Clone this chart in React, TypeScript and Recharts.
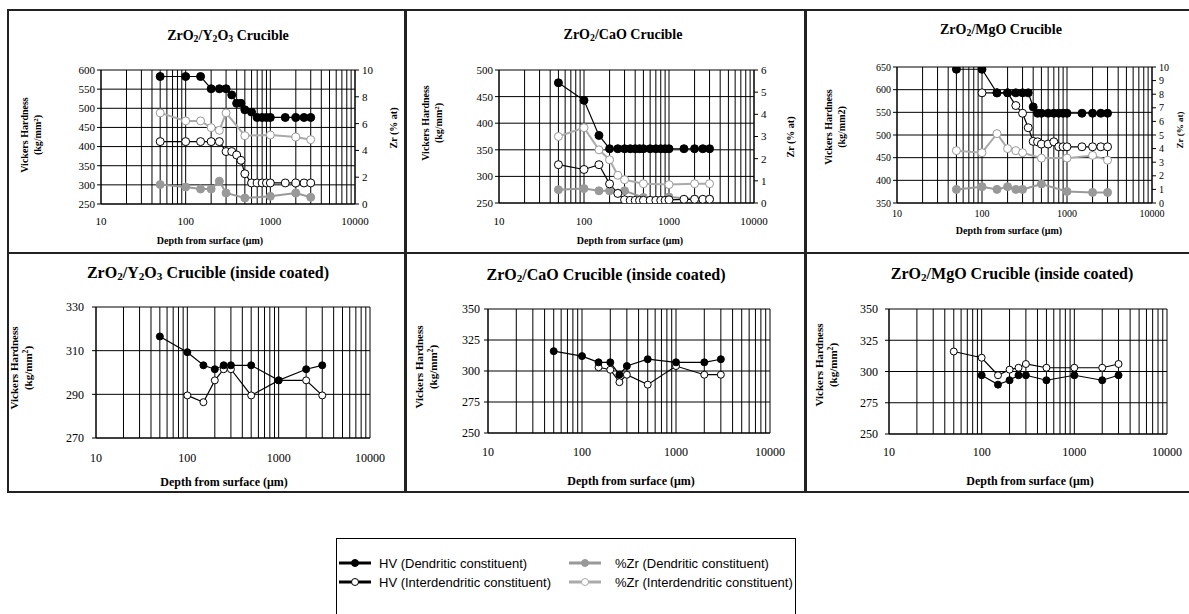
import React from "react";
import { CartesianGrid, Line, LineChart, XAxis, YAxis } from "recharts";

const SERIF = '"Liberation Serif", "Times New Roman", serif';
const SANS = '"Liberation Sans", Arial, sans-serif';

// log axis: every minor value gets a gridline, only decades are labelled
const LOG_TICKS = [
  10, 20, 30, 40, 50, 60, 70, 80, 90,
  100, 200, 300, 400, 500, 600, 700, 800, 900,
  1000, 2000, 3000, 4000, 5000, 6000, 7000, 8000, 9000, 10000,
];
const DECADES = [10, 100, 1000, 10000];

// depths (µm)
const DEPTH_FULL = [50, 100, 150, 200, 250, 300, 350, 400, 450, 500, 600, 700, 800, 900, 1000, 1500, 2000, 2500, 3000];
const DEPTH_FROM_100 = [100, 150, 200, 250, 300, 350, 400, 450, 500, 600, 700, 800, 900, 1000, 1500, 2000, 2500, 3000];
const DEPTH_ZR = [50, 100, 150, 200, 250, 300, 500, 1000, 2000, 3000];
const DEPTH_COATED = [50, 100, 150, 200, 250, 300, 500, 1000, 2000, 3000];
const DEPTH_COATED_100 = [100, 150, 200, 250, 300, 500, 1000, 2000, 3000];
const DEPTH_COATED_150 = [150, 200, 250, 300, 500, 1000, 2000, 3000];

// ZrO2/Y2O3 crucible
const Y2O3_HV_DEND = [583, 583, 583, 551, 551, 551, 535, 513, 513, 496, 490, 476, 476, 476, 476, 476, 476, 476, 476];
const Y2O3_HV_INTER = [413, 413, 413, 413, 413, 387, 387, 378, 364, 329, 305, 305, 305, 305, 305, 305, 305, 305, 305];
const Y2O3_ZR_DEND = [1.45, 1.27, 1.12, 1.12, 1.7, 0.82, 0.45, 0.57, 0.82, 0.5];
const Y2O3_ZR_INTER = [6.8, 6.2, 6.2, 5.7, 5.5, 6.8, 5.1, 5.15, 5.0, 4.8];

// ZrO2/CaO crucible
const CAO_HV_DEND = [476, 443, 377, 352, 352, 352, 352, 352, 352, 352, 352, 352, 352, 352, 352, 352, 352, 352, 352];
const CAO_HV_INTER = [322, 313, 322, 286, 268, 256, 255, 255, 255, 255, 255, 255, 255, 255, 256, 257, 257, 257, 257];
const CAO_ZR_DEND = [0.6, 0.65, 0.55, 0.55, 0.45, 0.55, 0.25, 0.27, 0.18, 0.18];
const CAO_ZR_INTER = [3.0, 3.4, 2.4, 1.95, 1.25, 1.05, 0.87, 0.83, 0.87, 0.87];

// ZrO2/MgO crucible
const MGO_HV_DEND = [645, 645, 593, 593, 593, 593, 593, 562, 548, 548, 548, 548, 548, 548, 548, 548, 548, 548, 548];
const MGO_HV_INTER = [593, 593, 593, 565, 548, 516, 486, 485, 480, 480, 485, 474, 474, 474, 474, 474, 474, 474];
const MGO_ZR_DEND = [1.0, 1.2, 1.0, 1.2, 1.0, 1.0, 1.4, 0.85, 0.78, 0.78];
const MGO_ZR_INTER = [3.85, 3.7, 5.1, 4.0, 3.85, 3.7, 3.3, 3.3, 3.5, 3.15];

// inside coated crucibles
const Y2O3C_HV_DEND = [316.5, 309.3, 303.3, 301.5, 303.3, 303.3, 303.3, 296.4, 301.5, 303.3];
const Y2O3C_HV_INTER = [289.5, 286.4, 296.4, 301.5, 301.5, 289.5, 296.4, 296.4, 289.5];
const CAOC_HV_DEND = [316, 312, 307, 307, 297, 304, 309.5, 307, 307, 309.5];
const CAOC_HV_INTER = [303, 301, 291, 297, 289, 304, 297, 297];
const MGOC_HV_DEND = [297, 289.5, 293, 297, 297, 293, 297, 293, 297];
const MGOC_HV_INTER = [316, 311, 297, 301.5, 303, 306, 303, 303, 303, 306];

const pts = (xs: number[], ys: number[]) => xs.map((x, i) => ({ x, y: ys[i] }));

type Kind = "hvDend" | "hvInter" | "zrDend" | "zrInter";
type Series = { key: string; data: { x: number; y: number }[]; kind: Kind };

const STYLE: Record<Kind, { stroke: string; width: number; fill: string; dotStroke: string; axis: string }> = {
  hvDend: { stroke: "#000", width: 1.2, fill: "#000", dotStroke: "#000", axis: "left" },
  hvInter: { stroke: "#000", width: 1.2, fill: "#fff", dotStroke: "#000", axis: "left" },
  zrDend: { stroke: "#999", width: 2, fill: "#999", dotStroke: "#999", axis: "right" },
  zrInter: { stroke: "#aaa", width: 2, fill: "#fff", dotStroke: "#999", axis: "right" },
};

type PanelProps = {
  plot: { x: number; y: number; w: number; h: number };
  leftDomain: number[];
  leftTicks: number[];
  rightDomain?: number[];
  rightTicks?: number[];
  series: Series[];
  fontSize: number;
  tickGap: number;
  leftMargin: number;
  dotR: number;
};

function Panel(p: PanelProps) {
  const LW = 60;
  const RW = 50;
  const TOP = 10;
  const XH = 40;
  const hasRight = !!p.rightDomain;
  const tickFont = { fontSize: p.fontSize, fill: "#000", fontFamily: SERIF };
  return (
    <div style={{ position: "absolute", left: p.plot.x - LW, top: p.plot.y - TOP }}>
      <LineChart
        width={p.plot.w + LW + RW}
        height={p.plot.h + TOP + XH}
        margin={{ top: TOP, right: hasRight ? 0 : RW, left: 0, bottom: 0 }}
      >
        <CartesianGrid yAxisId="left" stroke="#000" strokeWidth={1} />
        <XAxis
          dataKey="x"
          type="number"
          scale="log"
          domain={[10, 10000]}
          ticks={LOG_TICKS}
          interval={0}
          allowDataOverflow
          height={XH}
          tickLine={false}
          tickSize={6}
          tickMargin={p.tickGap - 6 - 0.35 * p.fontSize}
          axisLine={{ stroke: "#000" }}
          tick={tickFont}
          tickFormatter={(v: number) => (DECADES.includes(v) ? String(v) : "")}
        />
        <YAxis
          yAxisId="left"
          domain={p.leftDomain}
          ticks={p.leftTicks}
          interval={0}
          allowDataOverflow
          width={LW}
          tickSize={4}
          tickMargin={p.leftMargin}
          tickLine={{ stroke: "#000" }}
          axisLine={{ stroke: "#000" }}
          tick={tickFont}
        />
        <YAxis
          yAxisId="right"
          orientation="right"
          hide={!hasRight}
          domain={p.rightDomain ?? [0, 1]}
          ticks={p.rightTicks}
          interval={0}
          allowDataOverflow
          width={RW}
          tickSize={4}
          tickMargin={3}
          tickLine={{ stroke: "#000" }}
          axisLine={{ stroke: "#000" }}
          tick={tickFont}
        />
        {p.series.map((s) => {
          const st = STYLE[s.kind];
          return (
            <Line
              key={s.key}
              data={s.data}
              dataKey="y"
              yAxisId={st.axis}
              type="linear"
              stroke={st.stroke}
              strokeWidth={st.width}
              dot={{ r: p.dotR, fill: st.fill, stroke: st.dotStroke, strokeWidth: 1 }}
              activeDot={false}
              isAnimationActive={false}
            />
          );
        })}
      </LineChart>
    </div>
  );
}

function Txt({ x, y, size, bold = true, rotate = false, children }: any) {
  return (
    <div
      style={{
        position: "absolute",
        left: x,
        top: y,
        transform: `translate(-50%, -50%)${rotate ? " rotate(-90deg)" : ""}`,
        fontFamily: SERIF,
        fontSize: size,
        fontWeight: bold ? "bold" : "normal",
        whiteSpace: "nowrap",
        lineHeight: 1.3,
        textAlign: "center",
        color: "#000",
      }}
    >
      {children}
    </div>
  );
}

const sub = { fontSize: "0.7em", verticalAlign: "-0.25em", lineHeight: 0 } as const;
const sup = { fontSize: "0.7em", verticalAlign: "0.5em", lineHeight: 0 } as const;

function Box({ x, y, w, h }: { x: number; y: number; w: number; h: number }) {
  return (
    <div
      style={{
        position: "absolute",
        left: x,
        top: y,
        width: w,
        height: h,
        boxSizing: "border-box",
        border: "2px solid #222",
      }}
    />
  );
}

function LegendSample({ color, filled }: { color: string; filled: boolean }) {
  return (
    <svg width={32} height={10} style={{ display: "block" }}>
      <line x1={0} y1={5} x2={32} y2={5} stroke={color} strokeWidth={3} />
      <circle cx={16} cy={5} r={3.5} fill={filled ? color : "#fff"} stroke={color} strokeWidth={1} />
    </svg>
  );
}

const LEGEND = [
  { label: "HV (Dendritic constituent)", color: "#000", filled: true, x: 339, y: 563, gap: 8 },
  { label: "HV (Interdendritic constituent)", color: "#000", filled: false, x: 339, y: 582, gap: 8 },
  { label: "%Zr (Dendritic constituent)", color: "#999", filled: true, x: 569, y: 563, gap: 14 },
  { label: "%Zr (Interdendritic constituent)", color: "#aaa", filled: false, x: 569, y: 582, gap: 14 },
];

export default function App() {
  const hvLabel = (
    <>
      <div>Vickers Hardness</div>
      <div>
        (kg/mm<span style={sup}>2</span>)
      </div>
    </>
  );
  const depth = <>Depth from surface (μm)</>;
  return (
    <div style={{ position: "absolute", left: 0, top: 0, width: 1189, height: 614, overflow: "hidden", background: "#fff" }}>
      <Box x={7} y={9} w={399} h={245} />
      <Box x={405} y={9} w={401} h={245} />
      <Box x={805} y={9} w={400} h={245} />
      <Box x={7} y={252} w={399} h={241} />
      <Box x={405} y={252} w={401} h={241} />
      <Box x={805} y={252} w={400} h={241} />

      {/* top row */}
      <Panel
        plot={{ x: 101, y: 70, w: 254, h: 134 }}
        leftDomain={[250, 600]}
        leftTicks={[250, 300, 350, 400, 450, 500, 550, 600]}
        rightDomain={[0, 10]}
        rightTicks={[0, 2, 4, 6, 8, 10]}
        fontSize={11}
        tickGap={17}
        leftMargin={2}
        dotR={4}
        series={[
          { key: "zi", data: pts(DEPTH_ZR, Y2O3_ZR_INTER), kind: "zrInter" },
          { key: "zd", data: pts(DEPTH_ZR, Y2O3_ZR_DEND), kind: "zrDend" },
          { key: "hi", data: pts(DEPTH_FULL, Y2O3_HV_INTER), kind: "hvInter" },
          { key: "hd", data: pts(DEPTH_FULL, Y2O3_HV_DEND), kind: "hvDend" },
        ]}
      />
      <Panel
        plot={{ x: 499, y: 70, w: 255, h: 133 }}
        leftDomain={[250, 500]}
        leftTicks={[250, 300, 350, 400, 450, 500]}
        rightDomain={[0, 6]}
        rightTicks={[0, 1, 2, 3, 4, 5, 6]}
        fontSize={11}
        tickGap={18}
        leftMargin={2}
        dotR={4}
        series={[
          { key: "zi", data: pts(DEPTH_ZR, CAO_ZR_INTER), kind: "zrInter" },
          { key: "zd", data: pts(DEPTH_ZR, CAO_ZR_DEND), kind: "zrDend" },
          { key: "hi", data: pts(DEPTH_FULL, CAO_HV_INTER), kind: "hvInter" },
          { key: "hd", data: pts(DEPTH_FULL, CAO_HV_DEND), kind: "hvDend" },
        ]}
      />
      <Panel
        plot={{ x: 897, y: 67, w: 255, h: 136 }}
        leftDomain={[350, 650]}
        leftTicks={[350, 400, 450, 500, 550, 600, 650]}
        rightDomain={[0, 10]}
        rightTicks={[0, 1, 2, 3, 4, 5, 6, 7, 8, 9, 10]}
        fontSize={10}
        tickGap={10}
        leftMargin={2}
        dotR={4}
        series={[
          { key: "zi", data: pts(DEPTH_ZR, MGO_ZR_INTER), kind: "zrInter" },
          { key: "zd", data: pts(DEPTH_ZR, MGO_ZR_DEND), kind: "zrDend" },
          { key: "hi", data: pts(DEPTH_FROM_100, MGO_HV_INTER), kind: "hvInter" },
          { key: "hd", data: pts(DEPTH_FULL, MGO_HV_DEND), kind: "hvDend" },
        ]}
      />

      {/* bottom row */}
      <Panel
        plot={{ x: 96, y: 307, w: 274, h: 131 }}
        leftDomain={[270, 330]}
        leftTicks={[270, 290, 310, 330]}
        fontSize={12}
        tickGap={20}
        leftMargin={8}
        dotR={3.5}
        series={[
          { key: "hi", data: pts(DEPTH_COATED_100, Y2O3C_HV_INTER), kind: "hvInter" },
          { key: "hd", data: pts(DEPTH_COATED, Y2O3C_HV_DEND), kind: "hvDend" },
        ]}
      />
      <Panel
        plot={{ x: 488, y: 309, w: 282, h: 124 }}
        leftDomain={[250, 350]}
        leftTicks={[250, 275, 300, 325, 350]}
        fontSize={12}
        tickGap={19}
        leftMargin={4}
        dotR={3.5}
        series={[
          { key: "hi", data: pts(DEPTH_COATED_150, CAOC_HV_INTER), kind: "hvInter" },
          { key: "hd", data: pts(DEPTH_COATED, CAOC_HV_DEND), kind: "hvDend" },
        ]}
      />
      <Panel
        plot={{ x: 889, y: 309, w: 278, h: 125 }}
        leftDomain={[250, 350]}
        leftTicks={[250, 275, 300, 325, 350]}
        fontSize={12}
        tickGap={18}
        leftMargin={7}
        dotR={3.5}
        series={[
          { key: "hi", data: pts(DEPTH_COATED, MGOC_HV_INTER), kind: "hvInter" },
          { key: "hd", data: pts(DEPTH_COATED_100, MGOC_HV_DEND), kind: "hvDend" },
        ]}
      />

      {/* titles */}
      <Txt x={228} y={36} size={14}>
        ZrO<span style={sub}>2</span>/Y<span style={sub}>2</span>O<span style={sub}>3</span> Crucible
      </Txt>
      <Txt x={623} y={35} size={14}>
        ZrO<span style={sub}>2</span>/CaO Crucible
      </Txt>
      <Txt x={1001} y={30} size={14}>
        ZrO<span style={sub}>2</span>/MgO Crucible
      </Txt>
      <Txt x={208} y={273} size={16}>
        ZrO<span style={sub}>2</span>/Y<span style={sub}>2</span>O<span style={sub}>3</span> Crucible (inside coated)
      </Txt>
      <Txt x={606} y={275} size={16}>
        ZrO<span style={sub}>2</span>/CaO Crucible (inside coated)
      </Txt>
      <Txt x={1012} y={274} size={16}>
        ZrO<span style={sub}>2</span>/MgO Crucible (inside coated)
      </Txt>

      {/* x axis titles */}
      <Txt x={210} y={240} size={10}>{depth}</Txt>
      <Txt x={630} y={240} size={10}>{depth}</Txt>
      <Txt x={1009} y={230} size={10}>{depth}</Txt>
      <Txt x={224} y={483} size={12}>{depth}</Txt>
      <Txt x={631} y={482} size={12}>{depth}</Txt>
      <Txt x={1030} y={482} size={12}>{depth}</Txt>

      {/* y axis titles */}
      <Txt x={31} y={135} size={10} rotate>{hvLabel}</Txt>
      <Txt x={432} y={123} size={10} rotate>{hvLabel}</Txt>
      <Txt x={835} y={127} size={10} rotate>
        <div>Vickers Hardness</div>
        <div>(kg/mm2)</div>
      </Txt>
      <Txt x={21} y={368} size={11} rotate>{hvLabel}</Txt>
      <Txt x={426} y={367} size={11} rotate>{hvLabel}</Txt>
      <Txt x={826} y={365} size={11} rotate>{hvLabel}</Txt>
      <Txt x={393} y={128} size={10} rotate>Zr (% at)</Txt>
      <Txt x={790} y={137} size={10} rotate>Zr (% at)</Txt>
      <Txt x={1181} y={130} size={9} rotate>Zr (% at)</Txt>

      {/* shared legend */}
      <div
        style={{
          position: "absolute",
          left: 336,
          top: 538,
          width: 460,
          height: 100,
          boxSizing: "border-box",
          border: "1px solid #000",
        }}
      />
      {LEGEND.map((l) => (
        <div
          key={l.label}
          style={{
            position: "absolute",
            left: l.x,
            top: l.y - 8,
            height: 16,
            display: "flex",
            alignItems: "center",
            fontFamily: SANS,
            fontSize: 13,
            color: "#000",
            whiteSpace: "nowrap",
          }}
        >
          <LegendSample color={l.color} filled={l.filled} />
          <span style={{ marginLeft: l.gap }}>{l.label}</span>
        </div>
      ))}
    </div>
  );
}
